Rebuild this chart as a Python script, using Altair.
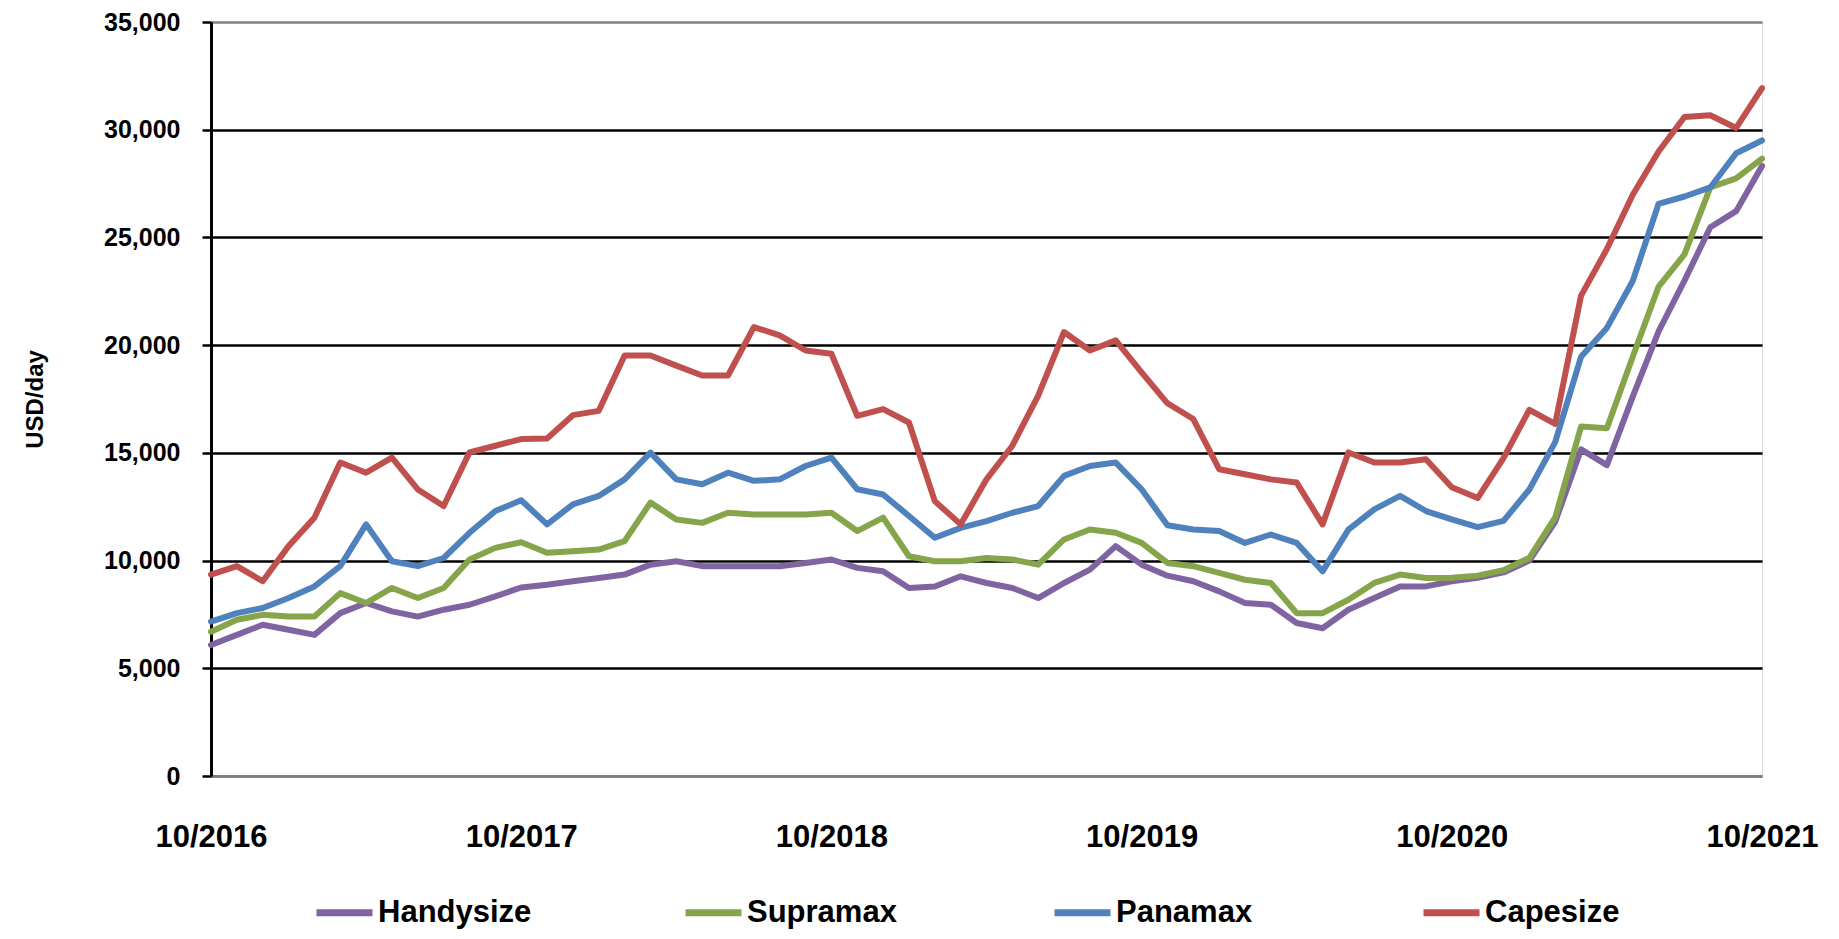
import altair as alt
import pandas as pd

series_names = ["Handysize", "Supramax", "Panamax", "Capesize"]
series_colors = ["#8064A2", "#86A44A", "#4F81BD", "#C0504D"]

handysize = [6080, 6550, 7020, 6790, 6550, 7560, 8030, 7640, 7400, 7720,
             7950, 8340, 8750, 8880, 9040, 9190, 9350, 9810, 9970, 9740,
             9740, 9740, 9740, 9890, 10050, 9660, 9500, 8730, 8800, 9270,
             8960, 8730, 8260, 8960, 9580, 10670, 9810, 9300, 9040, 8570,
             8030, 7950, 7100, 6860, 7720, 8260, 8800, 8800, 9040, 9200,
             9450, 10000, 11800, 15160, 14430, 17610, 20640, 22990, 25470, 26220,
             28320]
supramax = [6700, 7250, 7480, 7400, 7400, 8490, 8030, 8730, 8260, 8730,
            10050, 10590, 10850, 10360, 10430, 10510, 10900, 12690, 11910, 11750,
            12220, 12140, 12140, 12140, 12220, 11370, 11990, 10200, 9970, 9970,
            10120, 10050, 9810, 10980, 11440, 11290, 10820, 9890, 9740, 9430,
            9110, 8960, 7560, 7560, 8180, 8960, 9350, 9190, 9200, 9300,
            9550, 10130, 12000, 16220, 16140, 19460, 22720, 24210, 27320, 27740,
            28660]
panamax = [7170, 7560, 7800, 8260, 8800, 9740, 11680, 9970, 9740, 10120,
           11290, 12300, 12800, 11680, 12610, 13000, 13770, 15010, 13770, 13540,
           14080, 13700, 13770, 14390, 14780, 13310, 13070, 12070, 11060, 11520,
           11830, 12220, 12530, 13930, 14390, 14550, 13310, 11640, 11440, 11370,
           10820, 11210, 10820, 9500, 11440, 12380, 13000, 12300, 11910, 11550,
           11840, 13300, 15500, 19460, 20800, 22980, 26560, 26900, 27320, 28910,
           29500]
capesize = [9350, 9740, 9040, 10670, 11990, 14550, 14080, 14780, 13300, 12530,
            15020, 15330, 15640, 15670, 16750, 16950, 19520, 19520, 19050, 18590,
            18590, 20840, 20450, 19750, 19600, 16720, 17030, 16410, 12760, 11680,
            13770, 15330, 17660, 20610, 19750, 20220, 18740, 17300, 16570, 14240,
            14010, 13770, 13620, 11680, 15020, 14550, 14550, 14700, 13400, 12900,
            14760, 17000, 16350, 22300, 24460, 26980, 28990, 30590, 30670, 30080,
            31930]

x_tick_labels = ["10/2016", "10/2017", "10/2018", "10/2019", "10/2020", "10/2021"]
y_ticks = [0, 5000, 10000, 15000, 20000, 25000, 30000, 35000]

rows = []
for name, vals in zip(series_names, [handysize, supramax, panamax, capesize]):
    for i, v in enumerate(vals):
        rows.append({"month": i, "series": name, "value": v})
df = pd.DataFrame(rows)

FONT = "Liberation Sans, Arial, sans-serif"
label_js = "[" + ",".join("'" + s + "'" for s in x_tick_labels) + "]"

chart = alt.Chart(df).mark_line(strokeWidth=6, strokeJoin="round", strokeCap="round").encode(
    x=alt.X("month:Q",
            scale=alt.Scale(domain=[0, 60], nice=False, zero=False),
            axis=alt.Axis(values=[0, 12, 24, 36, 48, 60],
                          labelExpr=label_js + "[round(datum.value/12)]",
                          title=None, grid=False, ticks=False, domain=True,
                          domainColor="#808080", domainWidth=3,
                          labelFont=FONT, labelFontSize=31, labelFontWeight="bold",
                          labelColor="black", labelPadding=46, labelBaseline="top",
                          labelFlush=False, labelOverlap=False)),
    y=alt.Y("value:Q",
            scale=alt.Scale(domain=[0, 35000], nice=False),
            axis=alt.Axis(values=y_ticks, format=",d", title="USD/day",
                          grid=True,
                          gridColor={"condition": {"test": "datum.value == 35000 || datum.value == 0",
                                                   "value": "#808080"},
                                     "value": "black"},
                          gridWidth=2.5,
                          domain=True, domainColor="black", domainWidth=3,
                          ticks=True, tickColor="black", tickSize=9, tickWidth=2.5,
                          labelFont=FONT, labelFontSize=25, labelFontWeight="bold",
                          labelColor="black", labelPadding=22,
                          titleFont=FONT, titleFontSize=24, titleFontWeight="bold",
                          titleColor="black", titleAngle=-90,
                          titleX=-176, titleY=377, titleAlign="center",
                          titleBaseline="middle")),
    color=alt.Color("series:N",
                    scale=alt.Scale(domain=series_names, range=series_colors),
                    legend=alt.Legend(orient="none", legendX=102, legendY=859,
                                      direction="horizontal", columns=4,
                                      gridAlign="all", columnPadding=139,
                                      title=None, symbolType="stroke",
                                      symbolStrokeWidth=7, symbolSize=3136,
                                      labelOffset=2, labelLimit=400,
                                      labelFont=FONT, labelFontSize=31,
                                      labelFontWeight="bold", labelColor="black")),
    order=alt.Order("month:Q"),
).properties(
    width=1551, height=754,
    padding={"left": 203, "top": 14, "right": 68, "bottom": 155},
    autosize=alt.AutoSizeParams(type="none"),
).configure_view(
    stroke="#808080", strokeWidth=2.5
).configure(background="white")

chart.save("out.html", embed_options={"renderer": "svg", "actions": False})
